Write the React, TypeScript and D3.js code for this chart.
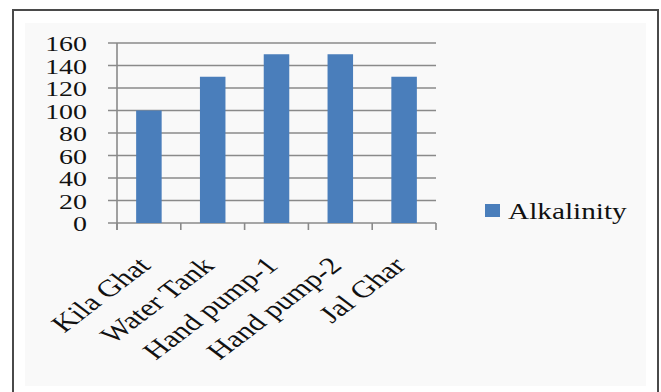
import React from "react";
import * as d3 from "d3";

const categories = ["Kila Ghat", "Water Tank", "Hand pump-1", "Hand pump-2", "Jal Ghar"];
const alkalinity = [100, 130, 150, 150, 130];
const yTicks = [0, 20, 40, 60, 80, 100, 120, 140, 160];
const seriesName = "Alkalinity";

const W = 661;
const H = 392;
const FONT = "Liberation Serif, Times New Roman, Times, serif";
const SX = 1.27;

export default function App() {
  const x = d3.scaleBand<string>().domain(categories).range([117, 436]).padding(0);
  const y = d3.scaleLinear().domain([0, 160]).range([223, 43]);
  const bw = x.bandwidth();
  const grid = "#8a8a8a";
  const blue = "#4a7ebb";
  const boundaries = categories.map((c) => x(c) as number).concat([436]);

  return (
    <svg width={W} height={H} style={{ position: "absolute", left: 0, top: 0, background: "#fff" }}>
      <rect x={13} y={10} width={645} height={400} fill="#fff" stroke="#4a4a4a" strokeWidth={2} />
      <rect x={25} y={23} width={621} height={363} fill="#f9f9f9" />
      {yTicks.map((t) => (
        <line key={"g" + t} x1={108} x2={436} y1={y(t)} y2={y(t)} stroke={grid} strokeWidth={1.6} />
      ))}
      <line x1={117} x2={117} y1={y(160)} y2={230} stroke={grid} strokeWidth={1.6} />
      {boundaries.map((b, i) => (
        <line key={"t" + i} x1={b} x2={b} y1={223} y2={230} stroke={grid} strokeWidth={1.6} />
      ))}
      {categories.map((c, i) => (
        <rect
          key={"b" + c}
          x={(x(c) as number) + bw * 0.3}
          width={bw * 0.4}
          y={y(alkalinity[i])}
          height={y(0) - y(alkalinity[i])}
          fill={blue}
        />
      ))}
      {yTicks.map((t) => (
        <text
          key={"yl" + t}
          transform={`translate(87, ${y(t) + 8}) scale(${SX},1)`}
          textAnchor="end"
          style={{ fontFamily: FONT }}
          fontSize={22}
          fill="#111"
        >
          {t}
        </text>
      ))}
      {categories.map((c) => (
        <text
          key={"xl" + c}
          transform={`translate(${(x(c) as number) + bw / 2 + 3}, 267) scale(1.32,1) rotate(-45)`}
          textAnchor="end"
          style={{ fontFamily: FONT }}
          fontSize={24}
          fill="#111"
        >
          {c}
        </text>
      ))}
      <rect x={485} y={204} width={15} height={13} fill={blue} />
      <text transform={`translate(508, 219) scale(1.22,1)`} style={{ fontFamily: FONT }} fontSize={24} fill="#111">
        {seriesName}
      </text>
    </svg>
  );
}
